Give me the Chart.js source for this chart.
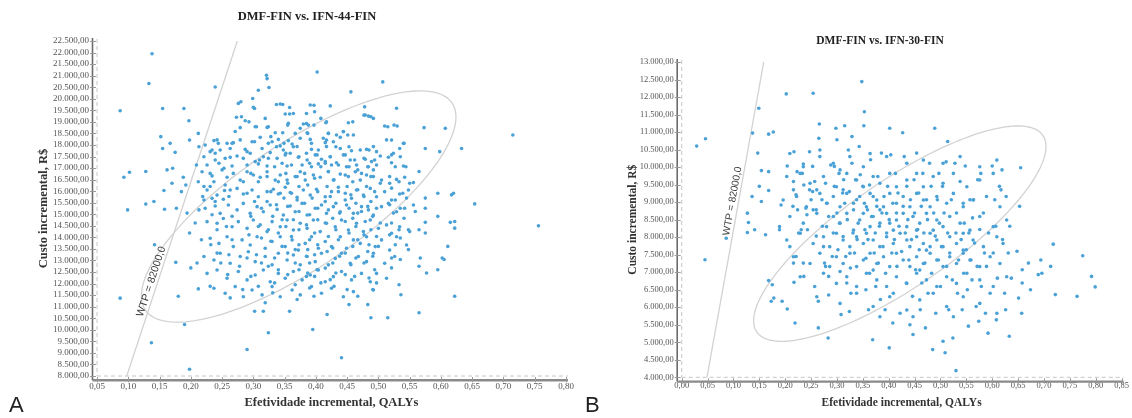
<!DOCTYPE html>
<html lang="pt">
<head>
  <meta charset="UTF-8">
  <title>DMF-FIN: custo-efetividade incremental</title>
  <script src="https://cdn.jsdelivr.net/npm/chart.js"></script>
  <style>
    body { margin: 0; padding: 0; background: #fff; }
    .wrap { position: relative; width: 1132px; height: 418px; overflow: hidden; }
    canvas { position: absolute; top: 0; }
    #cA { left: 0; }
    #cB { left: 580px; }
    .ttl { position: absolute; font-family: 'Liberation Serif', serif; font-weight: bold; color: #222; white-space: nowrap; transform: translate(-50%, -50%); }
    .letter { position: absolute; font-family: 'Liberation Sans', sans-serif; font-size: 22px; color: #222; }
  </style>
</head>
<body>
  <div class="wrap">
    <canvas id="cA" width="580" height="418"></canvas>
    <canvas id="cB" width="552" height="418"></canvas>
    <div class="ttl" style="left:307px; top:16px; font-size:12.5px;">DMF-FIN vs. IFN-44-FIN</div>
    <div class="ttl" style="left:880px; top:40px; font-size:11.5px;">DMF-FIN vs. IFN-30-FIN</div>
    <div class="letter" style="left:9px; top:392px;">A</div>
    <div class="letter" style="left:585px; top:392px;">B</div>
  </div>

  <script>
    // limiar de disposição a pagar (R$/QALY)
    const WTP = 82000;

    // ticks
    const xTicksA = [0.05,0.10,0.15,0.20,0.25,0.30,0.35,0.40,0.45,0.50,0.55,0.60,0.65,0.70,0.75,0.80];
    const yTicksA = [8000,8500,9000,9500,10000,10500,11000,11500,12000,12500,13000,13500,14000,14500,15000,
                     15500,16000,16500,17000,17500,18000,18500,19000,19500,20000,20500,21000,21500,22000,22500];
    const xTicksB = [0.00,0.05,0.10,0.15,0.20,0.25,0.30,0.35,0.40,0.45,0.50,0.55,0.60,0.65,0.70,0.75,0.80,0.85];
    const yTicksB = [4000,4500,5000,5500,6000,6500,7000,7500,8000,8500,9000,9500,10000,10500,11000,11500,12000,12500,13000];

    // elipse de confiança: [centro x, centro y, ponto mais à direita x, y, topo y]
    const ellipseA = [0.3725, 15336, 0.624, 19206, 20342];
    const ellipseB = [0.4215, 8101, 0.704, 10586, 11175];

    // simulações (efetividade incremental, custo incremental)
    const pointsA = [
      [0.087,19480],[0.138,21950],[0.133,20660],[0.093,16600],[0.102,16820],[0.099,15190],[0.087,11370],[0.128,15440],
      [0.128,16850],[0.141,15550],[0.142,13680],[0.137,9440],[0.155,19580],[0.152,18360],[0.155,17850],[0.157,16030],
      [0.158,15220],[0.167,18070],[0.162,16920],[0.170,16340],[0.175,17680],[0.171,16990],[0.177,15260],[0.176,12920],
      [0.180,11450],[0.190,10230],[0.198,8290],[0.189,19580],[0.197,19050],[0.198,18210],[0.188,16600],[0.192,16270],
      [0.185,15980],[0.194,15050],[0.198,14190],[0.200,12680],[0.212,18500],[0.213,17920],[0.209,17130],[0.212,16410],
      [0.219,15770],[0.213,15190],[0.207,14620],[0.217,13900],[0.210,12890],[0.212,11770],[0.231,11880],[0.239,20510],
      [0.244,18070],[0.231,17710],[0.239,17350],[0.234,16660],[0.231,16200],[0.239,15550],[0.234,14980],[0.242,14330],
      [0.232,13680],[0.242,13320],[0.248,12890],[0.259,12390],[0.263,11380],[0.281,19220],[0.279,18750],[0.266,18070],
      [0.263,17470],[0.253,16990],[0.254,16030],[0.261,15770],[0.266,14910],[0.257,14470],[0.266,13900],[0.261,13250],
      [0.278,12750],[0.283,11740],[0.290,9150],[0.280,19870],[0.299,20010],[0.308,20370],[0.302,19580],[0.293,19000],
      [0.305,18790],[0.302,18140],[0.290,17710],[0.310,17350],[0.296,16770],[0.308,16410],[0.284,16410],[0.290,15910],
      [0.302,15550],[0.313,15260],[0.296,14910],[0.308,14470],[0.293,14110],[0.313,13970],[0.305,13250],[0.290,13110],
      [0.313,12890],[0.296,12310],[0.308,11880],[0.302,10800],[0.316,10800],[0.321,21020],[0.322,20870],[0.325,20490],
      [0.337,19750],[0.324,18790],[0.328,18360],[0.337,17920],[0.324,17420],[0.334,17060],[0.322,16630],[0.340,16410],
      [0.328,15980],[0.343,15910],[0.322,15550],[0.337,15410],[0.331,14910],[0.346,14760],[0.324,14330],[0.340,14190],
      [0.328,13830],[0.346,13610],[0.334,13110],[0.324,12750],[0.340,12600],[0.334,12030],[0.319,11170],[0.324,9870],
      [0.331,11600],[0.347,19750],[0.358,19620],[0.364,19360],[0.355,18860],[0.367,18500],[0.349,18070],[0.364,17920],
      [0.352,17640],[0.373,17490],[0.361,17130],[0.352,16770],[0.370,16630],[0.355,16340],[0.373,16200],[0.361,15910],
      [0.349,15700],[0.370,15620],[0.355,15340],[0.373,15120],[0.364,14760],[0.352,14470],[0.373,14330],[0.361,14040],
      [0.373,13680],[0.367,13470],[0.355,13320],[0.385,13180],[0.367,12890],[0.373,12600],[0.355,12390],[0.385,12310],
      [0.367,11950],[0.370,11310],[0.358,10800],[0.385,19360],[0.397,19720],[0.398,19440],[0.402,21160],[0.385,18930],
      [0.397,18860],[0.387,18500],[0.408,19150],[0.393,18070],[0.385,17640],[0.402,17570],[0.390,17210],[0.408,17060],
      [0.382,16770],[0.398,16560],[0.387,16270],[0.403,15980],[0.394,15700],[0.382,15480],[0.403,15260],[0.390,14980],
      [0.403,14760],[0.385,14540],[0.398,14190],[0.390,13900],[0.403,13680],[0.387,13470],[0.398,13250],[0.390,12890],
      [0.402,12600],[0.387,12460],[0.398,12310],[0.408,12030],[0.390,11810],[0.397,11450],[0.395,10010],[0.417,19000],
      [0.420,18500],[0.417,18210],[0.432,17920],[0.423,17490],[0.415,17210],[0.436,17130],[0.420,16850],[0.429,16490],
      [0.418,16200],[0.436,15980],[0.423,15770],[0.415,15550],[0.432,15480],[0.420,15190],[0.438,15050],[0.427,14830],
      [0.415,14620],[0.432,14330],[0.420,14040],[0.436,13900],[0.427,13540],[0.418,13390],[0.438,13180],[0.427,12890],
      [0.415,12670],[0.432,12460],[0.423,12170],[0.429,11880],[0.418,10660],[0.441,8790],[0.444,18570],[0.451,18430],
      [0.456,20300],[0.459,19000],[0.453,17920],[0.447,17570],[0.462,17350],[0.453,17060],[0.467,16920],[0.447,16700],
      [0.459,16410],[0.450,16200],[0.467,16060],[0.456,15840],[0.447,15620],[0.464,15480],[0.453,15260],[0.467,15050],
      [0.459,14830],[0.447,14690],[0.464,14470],[0.453,14190],[0.467,13900],[0.459,13610],[0.447,13320],[0.464,13110],
      [0.456,12820],[0.447,12390],[0.462,12310],[0.450,11740],[0.453,11090],[0.467,11450],[0.478,19650],[0.488,19220],
      [0.477,19290],[0.507,20730],[0.485,17780],[0.477,17420],[0.494,17350],[0.483,17060],[0.497,17130],[0.473,16770],
      [0.488,16630],[0.503,16340],[0.481,16200],[0.494,15980],[0.477,15770],[0.488,15550],[0.483,15340],[0.497,15260],
      [0.473,15120],[0.491,14910],[0.479,14690],[0.503,14620],[0.488,14330],[0.477,14110],[0.497,14040],[0.485,13680],
      [0.500,13610],[0.483,13390],[0.491,13180],[0.477,12890],[0.494,12600],[0.485,12240],[0.497,12030],[0.491,11740],
      [0.483,11090],[0.488,10520],[0.515,10520],[0.515,18790],[0.530,18820],[0.521,18210],[0.541,18070],[0.521,17570],
      [0.535,17490],[0.527,17060],[0.544,17060],[0.518,16630],[0.533,16410],[0.550,16340],[0.521,16130],[0.539,15910],
      [0.527,15620],[0.545,15700],[0.518,15410],[0.535,15260],[0.524,15050],[0.541,14830],[0.521,14620],[0.533,14330],
      [0.548,14330],[0.518,14110],[0.535,13970],[0.527,13680],[0.548,13470],[0.521,13110],[0.535,13040],[0.521,12680],
      [0.533,11950],[0.536,11520],[0.565,10740],[0.573,18750],[0.575,17850],[0.565,16850],[0.575,15700],[0.559,15120],
      [0.575,15260],[0.575,14650],[0.575,14190],[0.565,14330],[0.567,13110],[0.577,12460],[0.565,12750],[0.595,15910],
      [0.598,17710],[0.607,18720],[0.595,14910],[0.611,13610],[0.602,13110],[0.605,13040],[0.595,12600],[0.615,14650],
      [0.620,15910],[0.617,15840],[0.622,14690],[0.622,14400],[0.622,11450],[0.633,17850],[0.654,15450],[0.715,18430],
      [0.756,14500],
      // núcleo da nuvem
      [0.276,19800],[0.343,19770],[0.391,19730],[0.423,19690],[0.351,19340],[0.358,19340],[0.479,19300],[0.484,19250],
      [0.529,19590],[0.300,19630],[0.273,19200],[0.287,19050],[0.319,19150],[0.356,18940],[0.380,18910],[0.388,18860],
      [0.416,18960],[0.452,18960],[0.492,19150],[0.510,18820],[0.525,18860],[0.271,18580],[0.303,18790],[0.322,18760],
      [0.335,18530],[0.347,18530],[0.375,18720],[0.386,18530],[0.433,18430],[0.444,18580],[0.420,18500],[0.237,18190],
      [0.242,18220],[0.258,18070],[0.268,18100],[0.279,18220],[0.298,18140],[0.311,18330],[0.324,18070],[0.330,18140],
      [0.340,18240],[0.356,18190],[0.362,18040],[0.375,18290],[0.391,18240],[0.412,18290],[0.415,18100],[0.428,18140],
      [0.439,18330],[0.460,18430],[0.513,18220],[0.540,18070],[0.223,18000],[0.234,17780],[0.247,17780],[0.263,17850],
      [0.287,17810],[0.314,17850],[0.343,17960],[0.348,17780],[0.370,17930],[0.393,17810],[0.404,17780],[0.417,17930],
      [0.439,17850],[0.457,17750],[0.471,17780],[0.481,17810],[0.492,17930],[0.497,17710],[0.524,17640],[0.534,17850],
      [0.221,17490],[0.239,17640],[0.255,17420],[0.274,17520],[0.284,17420],[0.295,17640],[0.303,17280],[0.316,17490],
      [0.327,17670],[0.338,17420],[0.351,17570],[0.359,17640],[0.372,17470],[0.386,17350],[0.399,17570],[0.409,17380],
      [0.423,17490],[0.433,17230],[0.444,17570],[0.455,17350],[0.465,17130],[0.479,17380],[0.489,17280],[0.503,17520],
      [0.516,17470],[0.521,17230],[0.226,17130],[0.245,17210],[0.266,17090],[0.290,17130],[0.308,17180],[0.322,17090],
      [0.346,17210],[0.354,17090],[0.378,17130],[0.393,17060],[0.404,17180],[0.415,17280],[0.425,17130],[0.449,17060],
      [0.484,17060],[0.492,16920],[0.540,17090],[0.218,16840],[0.231,16770],[0.250,16920],[0.258,16600],[0.268,16770],
      [0.279,16480],[0.290,16840],[0.300,16700],[0.311,16600],[0.322,16840],[0.335,16480],[0.343,16700],[0.354,16480],
      [0.367,16630],[0.375,16840],[0.383,16480],[0.396,16700],[0.407,16600],[0.420,16840],[0.428,16480],[0.439,16740],
      [0.452,16630],[0.463,16840],[0.471,16480],[0.481,16700],[0.492,16630],[0.505,16480],[0.518,16340],[0.529,16510],
      [0.542,16600],[0.556,16370],[0.221,16200],[0.237,16410],[0.255,16270],[0.226,16050],[0.242,15830],[0.263,16050],
      [0.274,16120],[0.284,15880],[0.298,16050],[0.308,15760],[0.322,15980],[0.332,16080],[0.340,15880],[0.351,16170],
      [0.359,15940],[0.370,15730],[0.380,16050],[0.391,15830],[0.401,16080],[0.415,15760],[0.425,15980],[0.436,16170],
      [0.447,15910],[0.457,15690],[0.465,16050],[0.476,15830],[0.487,16120],[0.497,15760],[0.510,15980],[0.521,15620],
      [0.534,15880],[0.548,16050],[0.221,15620],[0.234,15690],[0.252,15650],[0.223,15260],[0.239,15360],[0.247,15040],
      [0.260,15400],[0.274,15190],[0.284,15470],[0.295,15040],[0.306,15330],[0.316,15110],[0.327,15400],[0.338,15210],
      [0.348,14970],[0.359,15360],[0.367,15110],[0.378,15470],[0.386,14970],[0.399,15260],[0.409,15400],[0.417,15040],
      [0.428,15330],[0.439,15110],[0.449,15400],[0.460,15040],[0.473,15330],[0.484,15190],[0.492,14970],[0.505,15330],
      [0.516,15470],[0.529,15110],[0.542,15260],[0.556,15400],[0.226,14680],[0.242,14610],[0.252,14820],[0.266,14460],
      [0.276,14680],[0.290,14390],[0.300,14750],[0.311,14540],[0.322,14250],[0.330,14680],[0.343,14460],[0.354,14750],
      [0.364,14320],[0.375,14610],[0.386,14390],[0.396,14750],[0.407,14250],[0.417,14610],[0.431,14460],[0.441,14750],
      [0.452,14320],[0.465,14610],[0.476,14250],[0.487,14750],[0.500,14390],[0.513,14540],[0.521,14180],[0.534,14460],
      [0.550,14250],[0.231,13960],[0.245,13740],[0.258,14030],[0.268,13600],[0.282,13890],[0.295,13670],[0.306,14030],
      [0.319,13530],[0.330,13820],[0.343,14030],[0.351,13600],[0.362,13890],[0.372,13450],[0.383,13740],[0.393,14030],
      [0.404,13530],[0.415,13820],[0.425,13600],[0.439,14030],[0.449,13530],[0.460,13890],[0.471,13740],[0.481,14030],
      [0.495,13600],[0.505,13890],[0.518,13450],[0.529,14030],[0.545,13670],[0.221,13170],[0.237,13020],[0.247,13310],
      [0.263,12880],[0.279,13170],[0.292,13380],[0.303,12950],[0.319,13170],[0.330,12810],[0.340,13310],[0.354,13020],
      [0.364,13240],[0.375,12810],[0.386,13170],[0.399,12950],[0.409,13310],[0.420,12810],[0.431,13090],[0.441,13310],
      [0.455,12880],[0.468,13170],[0.481,12950],[0.492,13310],[0.510,12880],[0.526,13170],[0.226,12440],[0.242,12590],
      [0.258,12230],[0.276,12520],[0.290,12160],[0.303,12370],[0.316,12590],[0.327,12080],[0.340,12440],[0.351,12230],
      [0.364,12520],[0.378,12160],[0.391,12370],[0.404,12590],[0.415,12080],[0.428,12300],[0.441,12520],[0.457,12160],
      [0.473,12440],[0.487,12080],[0.497,12440],[0.513,12230],[0.237,11800],[0.255,11580],[0.271,11870],[0.284,11430],
      [0.298,11720],[0.314,11510],[0.330,11870],[0.343,11430],[0.362,11720],[0.375,11510],[0.393,11870],[0.409,11580],
      [0.425,11800],[0.444,11430],[0.460,11650],[0.492,11720]
    ];

    const pointsB = [
      [0.029,10600],[0.046,10810],[0.045,7355],[0.086,7970],[0.127,8685],[0.129,8420],[0.127,8130],[0.141,8210],
      [0.137,10970],[0.136,9160],[0.147,10400],[0.149,11680],[0.150,9450],[0.154,9900],[0.154,9020],[0.162,8070],
      [0.168,10940],[0.177,11000],[0.168,9330],[0.168,9870],[0.168,6760],[0.175,6640],[0.173,6170],[0.178,6260],
      [0.189,8300],[0.189,8210],[0.192,8920],[0.194,6170],[0.202,12090],[0.204,10030],[0.204,5950],[0.209,7730],
      [0.215,8880],[0.216,9590],[0.217,10440],[0.216,7260],[0.219,5550],[0.221,7450],[0.217,6710],[0.221,9210],
      [0.223,9870],[0.224,8780],[0.226,8120],[0.231,8210],[0.233,9820],[0.235,10090],[0.236,9490],[0.235,7260],
      [0.236,6880],[0.240,8830],[0.242,8640],[0.243,8210],[0.247,10440],[0.247,9350],[0.250,9070],[0.253,9300],
      [0.254,12110],[0.257,6590],[0.253,10020],[0.257,9590],[0.260,8030],[0.260,8780],[0.264,5410],[0.264,6170],
      [0.266,11230],[0.265,10820],[0.267,10490],[0.271,9070],[0.272,8310],[0.274,7730],[0.276,7260],[0.278,9540],
      [0.278,7165],[0.281,8970],[0.283,5120],[0.284,6350],[0.284,6880],[0.284,8590],[0.288,10060],[0.291,7450],
      [0.293,8120],[0.295,9450],[0.295,10020],[0.298,11110],[0.300,10780],[0.300,8690],[0.302,7640],[0.304,9820],
      [0.305,8400],[0.306,7020],[0.308,5790],[0.311,9260],[0.312,8020],[0.313,9640],[0.315,11180],[0.315,8970],
      [0.317,7450],[0.319,6690],[0.320,8500],[0.322,10490],[0.324,5880],[0.324,9300],[0.326,7120],[0.327,6400],
      [0.329,10870],[0.329,10110],[0.331,8120],[0.332,8780],[0.334,7550],[0.336,9640],[0.338,9070],[0.339,7930],
      [0.341,8400],[0.343,10590],[0.345,9780],[0.348,12440],[0.350,9450],[0.352,11180],[0.353,8970],[0.353,11580],
      [0.354,8210],[0.356,7400],[0.356,6500],[0.359,8780],[0.360,7930],[0.361,5930],[0.363,6970],[0.363,9490],
      [0.365,10210],[0.367,8590],[0.369,5070],[0.370,9160],[0.372,7550],[0.374,8120],[0.375,6590],[0.377,8880],
      [0.379,9730],[0.380,7260],[0.382,8310],[0.384,6220],[0.386,10400],[0.387,8690],[0.389,7730],[0.391,9160],
      [0.393,5930],[0.394,6970],[0.396,8120],[0.398,9450],[0.401,8500],[0.401,4840],[0.402,11110],[0.404,10350],
      [0.406,7550],[0.408,8970],[0.408,5550],[0.409,6400],[0.411,7930],[0.413,9820],[0.415,8690],[0.416,7165],
      [0.418,9260],[0.420,8310],[0.422,5830],[0.425,7590],[0.427,10980],[0.428,8880],[0.430,10300],[0.432,8120],
      [0.434,6690],[0.435,9450],[0.437,8500],[0.439,7350],[0.441,5500],[0.442,9070],[0.444,7930],[0.446,6310],
      [0.447,5220],[0.449,9640],[0.450,8690],[0.452,7070],[0.454,10400],[0.456,8220],[0.458,9260],[0.459,7640],
      [0.461,5930],[0.463,8880],[0.464,6690],[0.466,9820],[0.468,8120],[0.470,7260],[0.471,5410],[0.473,9070],
      [0.475,8500],[0.476,6400],[0.479,10110],[0.480,7730],[0.482,9450],[0.483,6970],[0.485,4790],[0.487,8690],
      [0.489,11110],[0.490,8030],[0.491,5830],[0.494,9070],[0.496,7350],[0.497,9820],[0.498,8400],[0.500,6590],
      [0.502,7730],[0.504,9450],[0.505,5030],[0.507,8690],[0.509,4700],[0.511,10150],[0.512,7165],[0.514,8120],
      [0.514,10730],[0.516,5930],[0.518,7550],[0.521,9070],[0.523,6780],[0.524,5120],[0.528,10110],[0.530,8120],
      [0.530,4190],[0.531,8690],[0.533,6400],[0.535,7350],[0.538,9590],[0.540,7930],[0.542,5930],[0.544,8970],
      [0.545,6970],[0.546,8400],[0.548,10030],[0.550,7640],[0.552,6500],[0.554,5460],[0.555,8120],[0.557,9070],
      [0.559,7350],[0.561,6780],[0.562,8550],[0.564,9070],[0.566,7830],[0.569,6020],[0.571,7165],[0.572,9640],
      [0.574,5600],[0.576,8220],[0.578,9820],[0.579,6590],[0.583,8690],[0.585,7550],[0.587,5830],[0.589,7165],
      [0.592,5260],[0.593,8120],[0.596,6400],[0.600,10030],[0.602,7550],[0.605,9070],[0.607,8310],[0.608,5640],
      [0.610,6830],[0.614,9450],[0.617,9350],[0.619,9920],[0.620,7930],[0.624,6400],[0.626,5930],[0.627,9160],
      [0.631,7550],[0.633,5170],[0.634,8310],[0.637,6830],[0.648,7600],[0.651,6260],[0.653,8880],[0.655,9980],
      [0.657,5830],[0.658,7070],[0.658,6690],[0.670,7260],[0.674,6500],[0.689,6930],[0.694,7350],[0.696,6970],
      [0.713,7165],[0.718,7800],[0.722,6360],[0.764,6310],[0.775,7470],[0.792,6880],[0.799,6580],
      // núcleo da nuvem
      [0.209,10390],[0.267,10300],[0.293,10110],[0.325,10300],[0.351,10010],[0.364,10390],[0.396,10300],[0.435,10110],
      [0.467,10200],[0.505,10110],[0.538,10300],[0.576,10010],[0.609,10200],[0.235,10010],[0.306,9920],[0.203,9730],
      [0.229,9820],[0.248,9540],[0.274,9730],[0.299,9440],[0.319,9820],[0.338,9630],[0.351,9440],[0.370,9730],
      [0.383,9540],[0.402,9820],[0.415,9440],[0.435,9630],[0.454,9820],[0.467,9440],[0.486,9730],[0.505,9540],
      [0.525,9820],[0.551,9440],[0.576,9630],[0.602,9820],[0.216,9350],[0.261,9350],[0.312,9350],[0.196,9060],
      [0.222,9160],[0.241,8870],[0.267,9250],[0.280,8970],[0.293,9160],[0.306,8870],[0.319,9250],[0.332,8970],
      [0.344,9160],[0.357,8870],[0.364,9250],[0.377,9060],[0.390,8870],[0.402,9250],[0.415,8970],[0.428,9160],
      [0.441,8870],[0.454,9250],[0.467,9060],[0.480,8870],[0.493,9160],[0.512,8970],[0.525,9250],[0.544,8870],
      [0.563,9060],[0.589,9160],[0.615,8870],[0.254,8780],[0.383,8780],[0.209,8590],[0.235,8400],[0.261,8680],
      [0.280,8300],[0.293,8590],[0.306,8400],[0.319,8680],[0.332,8200],[0.344,8490],[0.351,8680],[0.364,8300],
      [0.370,8590],[0.383,8400],[0.396,8680],[0.409,8200],[0.415,8490],[0.428,8680],[0.435,8300],[0.447,8590],
      [0.460,8400],[0.473,8680],[0.486,8200],[0.493,8490],[0.505,8300],[0.518,8590],[0.538,8400],[0.557,8200],
      [0.576,8590],[0.602,8300],[0.628,8490],[0.402,8400],[0.454,8200],[0.203,7920],[0.229,8110],[0.254,7820],
      [0.274,8010],[0.286,7730],[0.299,8110],[0.312,7920],[0.325,7730],[0.338,8010],[0.351,7820],[0.357,8110],
      [0.370,7920],[0.383,7730],[0.396,8010],[0.409,7820],[0.422,8110],[0.435,7920],[0.441,7730],[0.454,8010],
      [0.467,7820],[0.480,8110],[0.493,7920],[0.505,7730],[0.518,8010],[0.531,7820],[0.544,8110],[0.563,7920],
      [0.583,7730],[0.609,8010],[0.621,7820],[0.473,7630],[0.544,7630],[0.216,7440],[0.248,7250],[0.267,7540],
      [0.286,7160],[0.299,7440],[0.312,7250],[0.325,7540],[0.338,7160],[0.351,7350],[0.364,7540],[0.377,7250],
      [0.390,7440],[0.402,7160],[0.415,7540],[0.428,7350],[0.441,7160],[0.454,7440],[0.467,7250],[0.480,7540],
      [0.493,7350],[0.505,7160],[0.518,7440],[0.531,7250],[0.544,7540],[0.557,7350],[0.576,7160],[0.596,7440],
      [0.615,7250],[0.370,7060],[0.460,7060],[0.229,6870],[0.274,6970],[0.299,6680],[0.319,6870],[0.338,6590],
      [0.357,6970],[0.377,6780],[0.396,6590],[0.415,6870],[0.435,6680],[0.454,6970],[0.473,6780],[0.493,6590],
      [0.512,6870],[0.531,6680],[0.551,6970],[0.576,6780],[0.602,6590],[0.628,6870],[0.261,6300],[0.306,6110],
      [0.338,6400],[0.370,6020],[0.402,6300],[0.435,5920],[0.460,6210],[0.486,6400],[0.512,6020],[0.544,6300],
      [0.576,6110],[0.609,5830],[0.383,5730],[0.447,5730],[0.525,5730]
    ];

    function fmtMoney(v) {
      const parts = v.toFixed(2).split('.');
      return parts[0].replace(/\B(?=(\d{3})+(?!\d))/g, '.') + ',' + parts[1];
    }
    function fmtDec(v) { return v.toFixed(2).replace('.', ','); }

    // linhas tracejadas, eixos sólidos, marcas, elipse e rótulo WTP
    const decoPlugin = {
      id: 'deco',
      beforeDatasetsDraw(chart, args, opts) {
        const { ctx, chartArea: a, scales: { x, y } } = chart;
        const e = opts.ellipse;
        const cx = x.getPixelForValue(e[0]), cy = y.getPixelForValue(e[1]);
        const ux = x.getPixelForValue(e[2]) - cx, uy = y.getPixelForValue(e[3]) - cy;
        const h = cy - y.getPixelForValue(e[4]);
        const v = Math.sqrt(Math.max(h * h - uy * uy, 0));
        ctx.save();
        ctx.strokeStyle = '#d2d2d2';
        ctx.lineWidth = 1.3;
        ctx.beginPath();
        for (let i = 0; i <= 180; i++) {
          const t = i / 180 * Math.PI * 2;
          const px = cx + ux * Math.cos(t);
          const py = cy + uy * Math.cos(t) - v * Math.sin(t);
          if (i === 0) ctx.moveTo(px, py); else ctx.lineTo(px, py);
        }
        ctx.stroke();

        // tracejados nos mínimos dos eixos
        ctx.strokeStyle = '#c6c6c6';
        ctx.lineWidth = 1;
        ctx.setLineDash([4, 3]);
        ctx.beginPath();
        ctx.moveTo(a.left, a.top - 2); ctx.lineTo(a.left, a.bottom);
        ctx.moveTo(a.left, a.bottom); ctx.lineTo(a.right + 2, a.bottom);
        ctx.stroke();
        ctx.setLineDash([]);

        // eixos sólidos deslocados
        const gx = a.left - 4.5, gy = a.bottom + 4.3;
        ctx.strokeStyle = '#6c6c6c';
        ctx.lineWidth = 1.6;
        ctx.beginPath();
        ctx.moveTo(gx, a.top - 3); ctx.lineTo(gx, gy);
        ctx.stroke();
        ctx.strokeStyle = '#8a8a8a';
        ctx.lineWidth = 2.4;
        ctx.beginPath();
        ctx.moveTo(gx, gy); ctx.lineTo(a.right + 2, gy);
        ctx.stroke();

        // marcas
        ctx.strokeStyle = '#9a9a9a';
        ctx.lineWidth = 1;
        ctx.beginPath();
        y.ticks.forEach(t => {
          const py = Math.round(y.getPixelForValue(t.value)) + 0.5;
          ctx.moveTo(a.left - 7, py); ctx.lineTo(a.left - 1, py);
        });
        x.ticks.forEach(t => {
          const px = Math.round(x.getPixelForValue(t.value)) + 0.5;
          ctx.moveTo(px, a.bottom + 1); ctx.lineTo(px, gy + 2);
        });
        ctx.stroke();
        ctx.restore();
      },
      afterDatasetsDraw(chart, args, opts) {
        const { ctx, scales: { x, y } } = chart;
        const x1 = x.getPixelForValue(y.min / WTP), y1 = y.getPixelForValue(y.min);
        const x2 = x.getPixelForValue(y.max / WTP), y2 = y.getPixelForValue(y.max);
        const ang = Math.atan2(y2 - y1, x2 - x1);
        const ax = x.getPixelForValue(opts.labelAt / WTP), ay = y.getPixelForValue(opts.labelAt);
        ctx.save();
        ctx.translate(ax, ay);
        ctx.rotate(ang);
        ctx.font = opts.labelSize + "px 'Liberation Sans', sans-serif";
        ctx.fillStyle = '#3a3a3a';
        ctx.textAlign = 'center';
        ctx.textBaseline = 'bottom';
        ctx.fillText('WTP = 82000,0', 0, -1);
        ctx.restore();
      }
    };

    function makeChart(id, pts, xTicks, yTicks, ellipse, g) {
      const serif = "'Liberation Serif', serif";
      const wtpLine = [
        { x: yTicks[0] / WTP, y: yTicks[0] },
        { x: yTicks[yTicks.length - 1] / WTP, y: yTicks[yTicks.length - 1] }
      ];
      return new Chart(document.getElementById(id), {
        type: 'scatter',
        data: {
          datasets: [
            {
              data: pts.map(p => ({ x: p[0], y: p[1] })),
              backgroundColor: '#4aa1d6',
              borderWidth: 0,
              pointRadius: 1.8,
              order: 1
            },
            {
              data: wtpLine,
              showLine: true,
              borderColor: '#d2d2d2',
              borderWidth: 1.3,
              pointRadius: 0,
              order: 2
            }
          ]
        },
        options: {
          responsive: false,
          animation: false,
          layout: { padding: { left: g.padL, right: g.padR, top: g.padT, bottom: 0 } },
          plugins: {
            legend: { display: false },
            tooltip: { enabled: false },
            deco: { ellipse: ellipse, labelAt: g.labelAt, labelSize: g.labelSize }
          },
          scales: {
            x: {
              type: 'linear',
              min: xTicks[0],
              max: xTicks[xTicks.length - 1],
              afterBuildTicks: s => { s.ticks = xTicks.map(v => ({ value: v })); },
              afterFit: s => { s.height = g.xH; },
              grid: { display: false, drawTicks: false },
              border: { display: false },
              ticks: {
                padding: g.xPad, color: '#555', maxRotation: 0, autoSkip: false,
                font: { family: serif, size: g.tick },
                callback: v => fmtDec(v)
              },
              title: {
                display: true, text: 'Efetividade incremental, QALYs', color: '#333',
                font: { family: serif, size: g.axisT, weight: 'bold' },
                padding: { top: 0, bottom: g.titleB }
              }
            },
            y: {
              type: 'linear',
              min: yTicks[0],
              max: yTicks[yTicks.length - 1],
              afterBuildTicks: s => { s.ticks = yTicks.map(v => ({ value: v })); },
              afterFit: s => { s.width = g.yW; },
              grid: { display: false, drawTicks: false },
              border: { display: false },
              ticks: {
                padding: 8, color: '#555', autoSkip: false,
                font: { family: serif, size: g.tick },
                callback: v => fmtMoney(v)
              },
              title: {
                display: true, text: 'Custo incremental, R$', color: '#333',
                font: { family: serif, size: g.axisT, weight: 'bold' },
                padding: { top: 4, bottom: 0 }
              }
            }
          }
        },
        plugins: [decoPlugin]
      });
    }

    makeChart('cA', pointsA, xTicksA, yTicksA, ellipseA,
      { padL: 32.5, yW: 64.5, padR: 14, padT: 41, xH: 42, xPad: 5, titleB: 7.5, tick: 9, axisT: 12.5, labelAt: 12000, labelSize: 10.5 });
    makeChart('cB', pointsB, xTicksB, yTicksB, ellipseB,
      { padL: 42, yW: 59.7, padR: 10.3, padT: 62, xH: 40.7, xPad: 3, titleB: 7.8, tick: 8.5, axisT: 11.5, labelAt: 9000, labelSize: 10 });
  </script>
</body>
</html>
